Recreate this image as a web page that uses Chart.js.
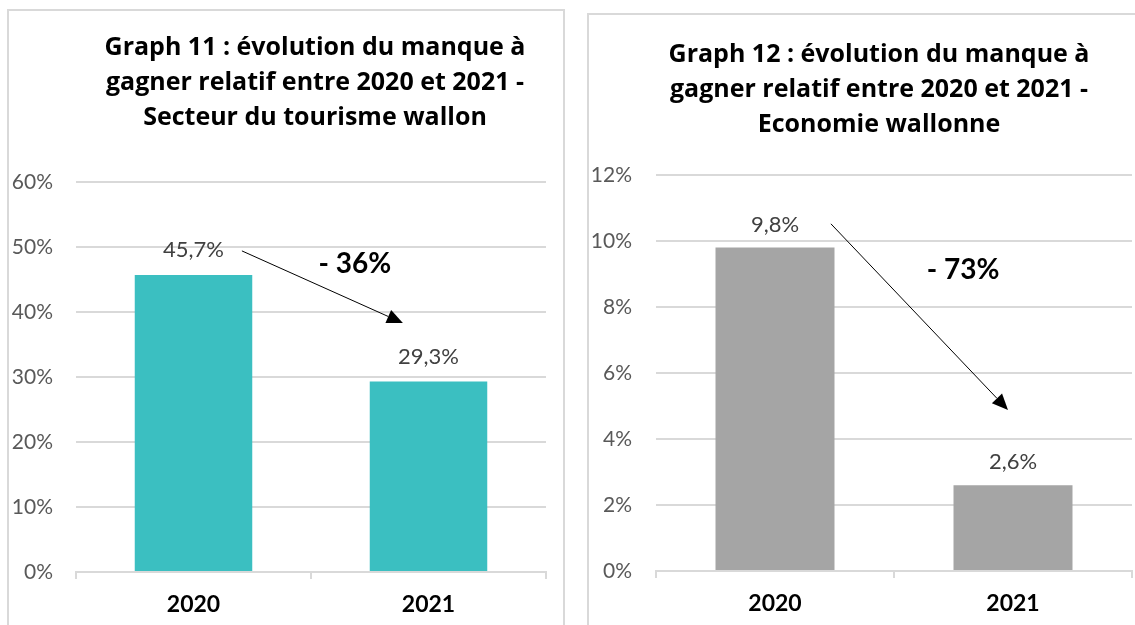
<!DOCTYPE html>
<html>
<head>
<meta charset="utf-8">
<script src="https://cdn.jsdelivr.net/npm/chart.js@4"></script>
<style>
    body { margin: 0; background: #fff; width: 1135px; height: 625px; overflow: hidden; position: relative; }
    .frame { position: absolute; box-sizing: border-box; border: 2px solid #d9d9d9; background: #fff; }
    #frame-left { left: 7px; top: 9px; width: 558px; height: 660px; }
    #frame-right { left: 587px; top: 13px; width: 620px; height: 660px; }
    canvas { position: absolute; left: 0; top: 0; }
</style>
</head>
<body>
<div class="frame" id="frame-left"><canvas id="chart-left" width="554" height="614"></canvas></div>
<div class="frame" id="frame-right"><canvas id="chart-right" width="546" height="610"></canvas></div>
<script>
const years = ['2020', '2021'];
const tourismValues = [45.7, 29.3];
const economyValues = [9.8, 2.6];
const tourismTitle = ['Graph 11 : évolution du manque à', 'gagner relatif entre 2020 et 2021 -', 'Secteur du tourisme wallon'];
const economyTitle = ['Graph 12 : évolution du manque à', 'gagner relatif entre 2020 et 2021 -', 'Economie wallonne'];
const tourismChange = '- 36%';
const economyChange = '- 73%';

const FONT = 'Lato, "Open Sans", sans-serif';
const TITLE_FONT = '"Open Sans", Lato, sans-serif';

// title lines, value labels and the change arrow, drawn on top of the bars
const decorations = {
    id: 'decorations',
    afterDraw(chart, args, opts) {
        const { ctx, scales } = chart;
        ctx.save();

        ctx.fillStyle = '#000';
        ctx.font = 'bold 25px ' + TITLE_FONT;
        ctx.textAlign = 'center';
        ctx.textBaseline = 'alphabetic';
        opts.title.forEach((line, i) => {
            ctx.fillText(line, opts.titleX, opts.titleY + i * 35);
        });

        const meta = chart.getDatasetMeta(0);
        ctx.fillStyle = '#404040';
        ctx.font = '22px ' + FONT;
        ctx.textBaseline = 'middle';
        meta.data.forEach((bar, i) => {
            const v = chart.data.datasets[0].data[i];
            ctx.fillText(v.toFixed(1).replace('.', ',') + '%', bar.x, bar.y - opts.labelGap);
        });

        const px = p => [scales.x.getPixelForValue(p[0]), scales.y.getPixelForValue(p[1])];
        const [x1, y1] = px(opts.arrowFrom);
        const [x2, y2] = px(opts.arrowTo);
        const ang = Math.atan2(y2 - y1, x2 - x1);
        const head = 16, half = 7;
        const bx = x2 - head * Math.cos(ang), by = y2 - head * Math.sin(ang);
        ctx.strokeStyle = '#000';
        ctx.lineWidth = 1;
        ctx.beginPath();
        ctx.moveTo(x1, y1);
        ctx.lineTo(bx, by);
        ctx.stroke();
        ctx.fillStyle = '#000';
        ctx.beginPath();
        ctx.moveTo(x2, y2);
        ctx.lineTo(bx + half * Math.sin(ang), by - half * Math.cos(ang));
        ctx.lineTo(bx - half * Math.sin(ang), by + half * Math.cos(ang));
        ctx.closePath();
        ctx.fill();

        const [lx, ly] = px(opts.changeAt);
        ctx.font = 'bold 28px ' + FONT;
        ctx.fillText(opts.change, lx, ly);
        ctx.restore();
    }
};

const makeChart = (id, values, color, max, step, cfg) => {
    const ctx = document.getElementById(id).getContext('2d');
    return new Chart(ctx, {
        type: 'bar',
        data: {
            labels: years,
            datasets: [{
                data: values,
                backgroundColor: color,
                barPercentage: 0.5,
                categoryPercentage: 1
            }]
        },
        options: {
            responsive: false,
            animation: false,
            layout: { padding: { top: cfg.top, right: cfg.right, left: 0, bottom: 0 } },
            plugins: {
                legend: { display: false },
                tooltip: { enabled: false },
                decorations: cfg.deco
            },
            scales: {
                x: {
                    grid: { display: true, drawOnChartArea: false, drawTicks: true, tickLength: 7, color: '#d9d9d9', lineWidth: 2, offset: true },
                    border: { display: true, color: '#d9d9d9', width: 2 },
                    ticks: { color: '#000', font: { family: FONT, size: 23, weight: 'bold' }, padding: 12 },
                    afterFit: s => { s.height = cfg.xHeight; }
                },
                y: {
                    min: 0,
                    max: max,
                    grid: { color: '#d9d9d9', lineWidth: 2, drawTicks: false },
                    border: { display: false },
                    ticks: {
                        stepSize: step,
                        color: '#595959',
                        font: { family: FONT, size: 21 },
                        padding: cfg.tickPad,
                        callback: v => v + '%'
                    },
                    afterFit: s => { s.width = 67; }
                }
            }
        },
        plugins: [decorations]
    });
};

makeChart('chart-left', tourismValues, '#3bbfc1', 60, 10, {
    top: 171, right: 17, xHeight: 53, tickPad: 23,
    deco: {
        title: tourismTitle, titleX: 306, titleY: 44, labelGap: 25,
        arrowFrom: [0.206, 49.4], arrowTo: [0.891, 38.3],
        changeAt: [0.687, 47.4], change: tourismChange
    }
});

makeChart('chart-right', economyValues, '#a5a5a5', 12, 2, {
    top: 160, right: 3, xHeight: 54, tickPad: 24,
    deco: {
        title: economyTitle, titleX: 290, titleY: 47, labelGap: 23,
        arrowFrom: [0.235, 10.52], arrowTo: [0.979, 4.88],
        changeAt: [0.79, 9.12], change: economyChange
    }
});
</script>
</body>
</html>
